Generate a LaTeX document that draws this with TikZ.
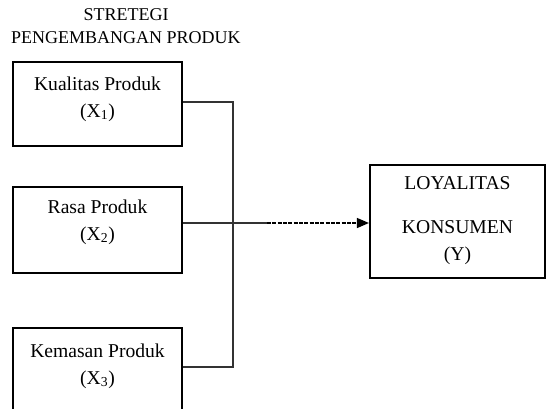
\documentclass[tikz,border=0pt]{standalone}
\usepackage{fontspec}
\setmainfont{Liberation Serif}
\usepackage{tikz}
\usetikzlibrary{arrows.meta}
\newcommand{\boxfont}{\fontsize{14.7}{20}\selectfont}
\newcommand{\ttlfont}{\fontsize{13.5}{17.25}\selectfont}

\begin{document}
\begin{tikzpicture}[x=0.75pt,y=-0.75pt,
  varbox/.style={draw,line width=1.6pt,rectangle,inner sep=0pt,minimum width=126.75pt},
  lbl/.style={align=center,inner sep=0pt,font=\boxfont,anchor=base},
  conn/.style={draw=black!80,line width=0.8pt}]
\useasboundingbox (0,0) rectangle (549,408);
\clip (0,0) rectangle (549,408);
% ---- JUDUL ----
\node[align=center,inner sep=0pt,font=\ttlfont,anchor=base] (judul) at (126,43) {STRETEGI\\PENGEMBANGAN PRODUK};
% ---- VARIABEL X ----
\node[varbox,minimum height=63pt] (k1) at (97.5,104) {};
\node[varbox,minimum height=64.5pt] (k2) at (97.5,230) {};
\node[varbox,minimum height=63pt] (k3) at (97.5,370) {};
\node[lbl] (t1) at (97.5,117) {Kualitas Produk\\(X\textsubscript{1})};
\node[lbl] (t2) at (97.5,240) {Rasa Produk\\(X\textsubscript{2})};
\node[lbl] (t3) at (97.5,384) {Kemasan Produk\\(X\textsubscript{3})};
% ---- VARIABEL Y ----
\node[varbox,minimum width=131.25pt,minimum height=84.75pt] (ky) at (457.5,221.5) {};
\node[lbl] (ty) at (457.5,260) {LOYALITAS\\[13.2pt]KONSUMEN\\(Y)};
% ---- GARIS ----
\coordinate (jn) at (233,223);
\coordinate (dsh) at (267,223);
\draw[conn] ([yshift=1.5pt]k1.east) -| (jn);
\draw[conn] ([yshift=2.25pt]k3.east) -| (jn);
\draw[conn] (k2.east |- jn) -- (dsh);
\draw[conn,draw=black,line width=1pt,dash pattern=on 3pt off 1pt,-{Triangle[length=9pt,width=7.5pt]}] (dsh) -- (ky.west |- jn);
\end{tikzpicture}
\end{document}
